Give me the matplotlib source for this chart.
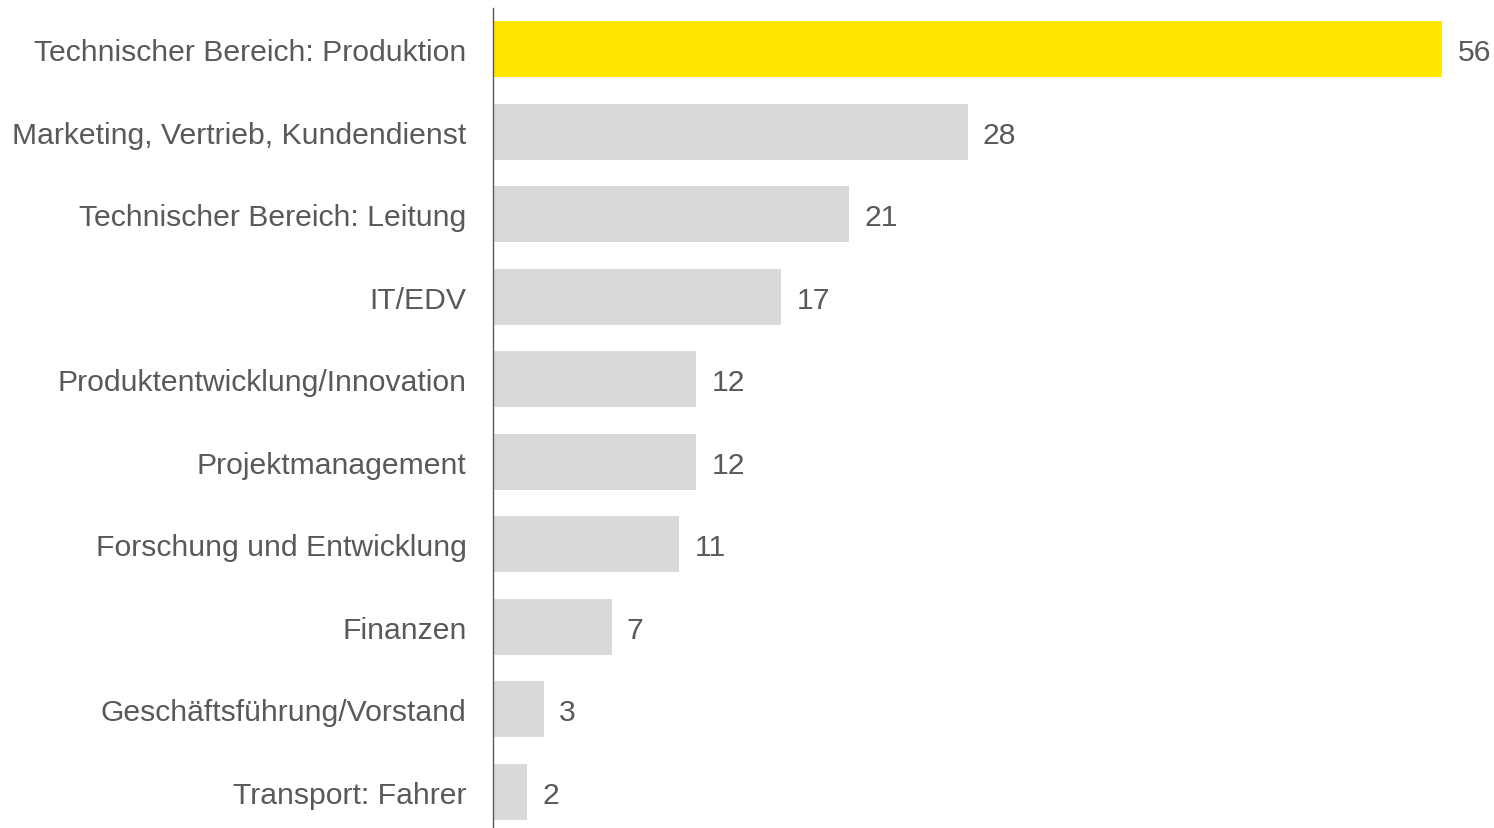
import matplotlib.pyplot as plt

# Daten
categories = [
    "Technischer Bereich: Produktion",
    "Marketing, Vertrieb, Kundendienst",
    "Technischer Bereich: Leitung",
    "IT/EDV",
    "Produktentwicklung/Innovation",
    "Projektmanagement",
    "Forschung und Entwicklung",
    "Finanzen",
    "Geschäftsführung/Vorstand",
    "Transport: Fahrer",
]
values = [56, 28, 21, 17, 12, 12, 11, 7, 3, 2]

plt.rcParams['font.family'] = ['Liberation Sans', 'DejaVu Sans']
text_color = '#595959'

fig = plt.figure(figsize=(14.94, 8.29), dpi=100)
ax = fig.add_axes([493 / 1494, 0, 1001 / 1494, 820 / 829])

colors = ['#FFE600'] + ['#D9D9D9'] * (len(values) - 1)
y = range(len(categories))
ax.barh(y, values, height=0.68, color=colors)

for i, v in enumerate(values):
    ax.text(v + 0.9, i, str(v), va='center_baseline', ha='left',
            fontsize=21.7, color=text_color)

ax.set_yticks(list(y))
ax.set_yticklabels(categories, fontsize=21.7, color=text_color,
                   va='center_baseline')
ax.tick_params(axis='y', length=0, pad=19)
ax.set_xticks([])
ax.set_xlim(0, 59.06)
ax.set_ylim(9.44, -0.5)

for s in ['top', 'right', 'bottom']:
    ax.spines[s].set_visible(False)
ax.spines['left'].set_color(text_color)
ax.spines['left'].set_linewidth(1.0)

fig.savefig('out.png', dpi=100)
